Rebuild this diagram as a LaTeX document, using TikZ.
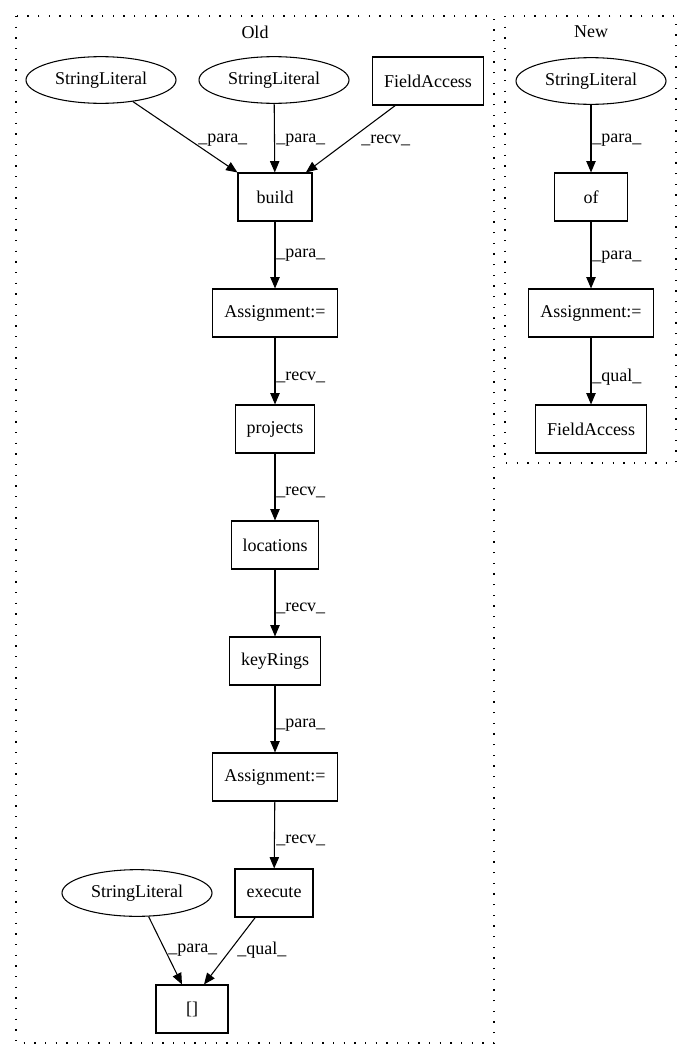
\documentclass[tikz,border=0pt]{standalone}
\usepackage{fontspec}
\setmainfont{Liberation Serif}
\usetikzlibrary{arrows.meta,shapes.geometric}
\begin{document}
\begin{tikzpicture}[x=0.75pt,y=-0.75pt,
  every node/.style={font=\fontsize{13.5}{16}\selectfont},
  box/.style={draw, line width=0.8pt, rectangle, minimum height=36pt, inner sep=0pt},
  ell/.style={draw, line width=0.8pt, ellipse, minimum width=112.5pt, minimum height=35pt, inner sep=0pt},
  edge/.style={draw, line width=0.8pt, -{Triangle[length=8.5pt,width=7pt]}},
  lab/.style={anchor=west, inner sep=0pt},
  cluster/.style={draw, line width=0.8pt, dash pattern=on 1pt off 7pt}]
\useasboundingbox (0,0) rectangle (692,1060);
% clusters
\draw[cluster] (16,16) rectangle (494,1043);
\draw[cluster] (505,16) rectangle (676,463);
\node (oldlab) at (255,32) {Old};
\node (newlab) at (591,32) {New};
% Old nodes
\node[ell] (sl1) at (101,80) {StringLiteral};
\node[ell] (sl2) at (274,80) {StringLiteral};
\node[box, minimum width=83.25pt] (fa1) at (428,81) {FieldAccess};
\node[box, minimum width=55.5pt] (build) at (275,197) {build};
\node[box, minimum width=93.75pt] (asg1) at (275,313) {Assignment:=};
\node[box, minimum width=59.25pt] (projects) at (275,429) {projects};
\node[box, minimum width=65.25pt] (locations) at (275,545) {locations};
\node[box, minimum width=68.25pt] (keyrings) at (275,661) {keyRings};
\node[box, minimum width=93.75pt] (asg2) at (275,777) {Assignment:=};
\node[box, minimum width=58.5pt] (execute) at (274,893) {execute};
\node[ell] (sl3) at (137,893) {StringLiteral};
\node[box, minimum width=54pt] (idx) at (192,1009) {[]};
% New nodes
\node[ell] (sl4) at (591,81) {StringLiteral};
\node[box, minimum width=54.75pt] (of) at (591,197) {of};
\node[box, minimum width=93.75pt] (asg3) at (591,313) {Assignment:=};
\node[box, minimum width=83.25pt] (fa2) at (591,429) {FieldAccess};
% Old edges
\draw[edge] (sl1) -- (build.north west);
\draw[edge] (sl2) -- (build);
\draw[edge] (fa1) -- ([xshift=-5pt]build.north east);
\draw[edge] (build) -- (asg1);
\draw[edge] (asg1) -- (projects);
\draw[edge] (projects) -- (locations);
\draw[edge] (locations) -- (keyrings);
\draw[edge] (keyrings) -- (asg2);
\draw[edge] (asg2) -- (execute);
\draw[edge] (sl3) -- ([xshift=-7.5pt]idx.north);
\draw[edge] (execute) -- ([xshift=9pt]idx.north);
% New edges
\draw[edge] (sl4) -- (of);
\draw[edge] (of) -- (asg3);
\draw[edge] (asg3) -- (fa2);
% edge labels
\node[lab] (l1) at (198,140) {\_para\_};
\node[lab] (l2) at (276,140) {\_para\_};
\node[lab] (l3) at (361,140) {\_recv\_};
\node[lab] (l4) at (276,255) {\_para\_};
\node[lab] (l5) at (276,377) {\_recv\_};
\node[lab] (l6) at (276,492) {\_recv\_};
\node[lab] (l7) at (276,608) {\_recv\_};
\node[lab] (l8) at (276,725) {\_para\_};
\node[lab] (l9) at (276,840) {\_recv\_};
\node[lab] (l10) at (168,950) {\_para\_};
\node[lab] (l11) at (237,950) {\_qual\_};
\node[lab] (n1) at (592,140) {\_para\_};
\node[lab] (n2) at (592,257) {\_para\_};
\node[lab] (n3) at (592,377) {\_qual\_};
\end{tikzpicture}
\end{document}
